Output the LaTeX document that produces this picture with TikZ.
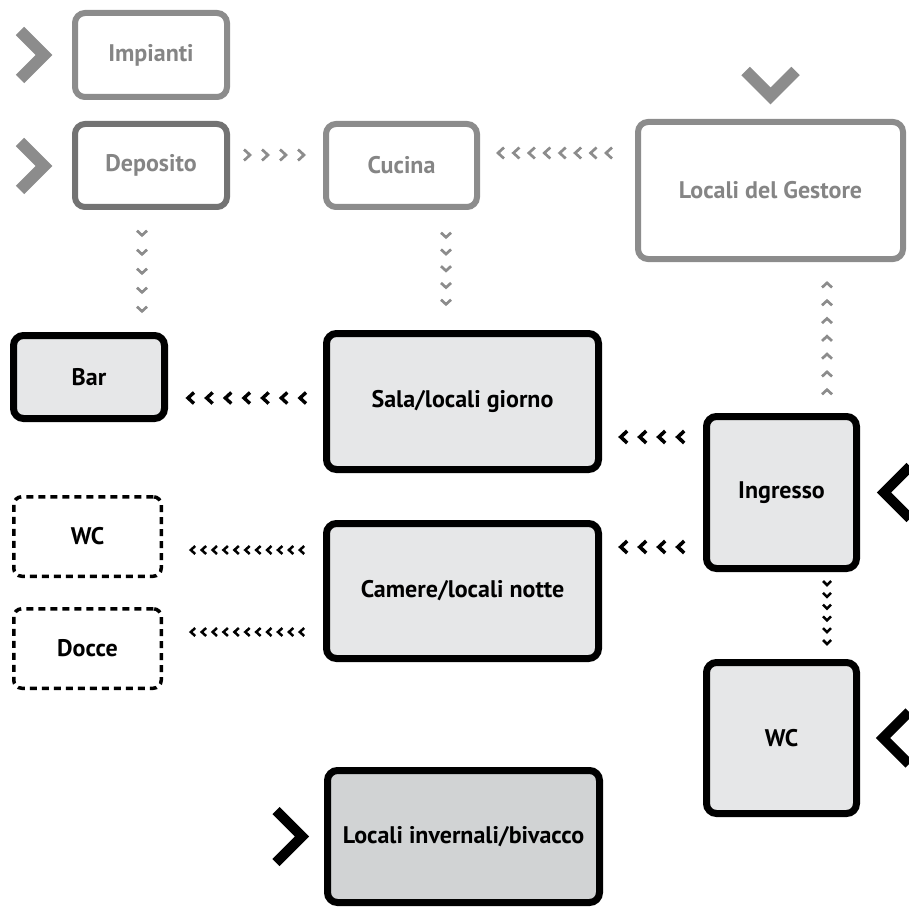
\documentclass[tikz,border=0pt]{standalone}
\usepackage{fontspec}
\setmainfont{PT Sans}
\usepackage{tikz}
\usetikzlibrary{calc,decorations.markings}
\definecolor{boxgrey}{HTML}{8C8C8C}
\definecolor{depgrey}{HTML}{737373}
\definecolor{txtgrey}{HTML}{858585}
\definecolor{roomfill}{HTML}{E6E7E8}
\definecolor{winterfill}{HTML}{D1D3D4}
\tikzset{
  label font/.style={font=\bfseries\fontsize{24}{26}\selectfont},
  greybox/.style={draw=boxgrey, line width=6pt, rounded corners=10pt, fill=white,
    text=txtgrey, label font},
  roombox/.style={draw=black, line width=7pt, rounded corners=10pt, fill=roomfill,
    text=black, label font},
  dashbox/.style={draw=black, line width=3.5pt, dash pattern=on 7pt off 5pt,
    rounded corners=8pt, fill=white, text=black, label font},
  chevrow/.style n args={5}{decoration={markings,
      mark=between positions #1 and #2 step #3 with {\draw[line join=miter] (-#4,-#5) -- (#4,0) -- (-#4,#5);}},
    postaction={decorate}},
  bigchev/.style={line width=#1, line join=miter},
}

\begin{document}
\begin{tikzpicture}[x=1pt, y=-1pt]
    \useasboundingbox (0,0) rectangle (909,909);
    % grey rooms
    \node[greybox, minimum width=152, minimum height=84] (impianti) at (151,55) {Impianti};
    \node[greybox, draw=depgrey, minimum width=152, minimum height=83] (deposito) at (151,165.5) {Deposito};
    \node[greybox, minimum width=151, minimum height=83] (cucina) at (401.5,165.5) {Cucina};
    \node[greybox, minimum width=265, minimum height=137] (gestore) at (770.5,190.5) {Locali del Gestore};
    % black rooms
    \node[roombox, minimum width=151, minimum height=83] (bar) at (89,377) {Bar};
    \node[roombox, minimum width=272, minimum height=136] (sala) at (462.5,401.5) {Sala/locali giorno};
    \node[roombox, minimum width=272, minimum height=135] (camere) at (462.5,591) {Camere/locali notte};
    \node[roombox, minimum width=150, minimum height=152] (ingresso) at (781.5,492.5) {Ingresso};
    \node[roombox, minimum width=150, minimum height=151] (wcr) at (781.5,738) {WC};
    \node[roombox, fill=winterfill, minimum width=272, minimum height=132] (invernali) at (463.5,836.5) {Locali invernali/bivacco};
    \node[dashbox, minimum width=147.5, minimum height=79.5] (wc) at (87.5,536.5) {WC};
    \node[dashbox, minimum width=147.5, minimum height=79.5] (docce) at (87.5,648.5) {Docce};

    \coordinate (dc) at ([yshift=10.5pt]deposito.east);
    \coordinate (cg) at ([yshift=12.5pt]cucina.east);
    \coordinate (dd) at ([xshift=-9pt]deposito.south);
    \coordinate (cd) at ([xshift=44.5pt]cucina.south);
    \coordinate (iu) at ([xshift=45.5pt]ingresso.north);
    \coordinate (idn) at ([xshift=45.5pt]ingresso.south);
    \coordinate (is) at ([yshift=55.5pt]ingresso.west);
    \coordinate (ic) at ([yshift=-54.5pt]ingresso.west);
    \coordinate (sb) at ([yshift=3.5pt]sala.west);
    \coordinate (cw) at ([yshift=41pt]camere.west);
    \coordinate (cdo) at ([yshift=-41pt]camere.west);

    \path[boxgrey, line width=2.7pt, chevrow={17pt}{-21.5pt}{18pt}{3}{5.5}] (dc) -- (dc -| cucina.west);
    \path[boxgrey, line width=2.7pt, chevrow={26pt}{-20.5pt}{15.43pt}{3}{5.5}] (cg -| gestore.west) -- (cg);
    \path[boxgrey, line width=2.7pt, chevrow={23pt}{-22.5pt}{19pt}{2.3}{5}] (dd) -- (dd |- bar.north);
    \path[boxgrey, line width=2.7pt, chevrow={25pt}{-27.5pt}{16.75pt}{2.3}{5}] (cd) -- (cd |- sala.north);
    \path[boxgrey, line width=2.7pt, chevrow={21pt}{-22.7pt}{17.8pt}{2.3}{5}] (iu) -- (iu |- gestore.south);
    \path[black, line width=3.6pt, chevrow={22pt}{-21.5pt}{19pt}{3.2}{6}] (is) -- (is -| sala.east);
    \path[black, line width=3.6pt, chevrow={22pt}{-21.5pt}{19pt}{3.2}{6}] (ic) -- (ic -| camere.east);
    \path[black, line width=2.5pt, chevrow={11pt}{-16.5pt}{11.8pt}{2}{4}] (idn) -- (idn |- wcr.north);
    \path[black, line width=3.4pt, chevrow={20pt}{-22.5pt}{18.67pt}{3}{5.5}] (sb) -- (sb -| bar.east);
    \path[black, line width=2.5pt, chevrow={21pt}{-29.5pt}{10.9pt}{2.2}{4}] (cw) -- (cw -| wc.east);
    \path[black, line width=2.5pt, chevrow={21pt}{-29.5pt}{10.9pt}{2.2}{4}] (cdo) -- (cdo -| docce.east);

    % entrances
    \draw[boxgrey, bigchev=12pt] ([xshift=-52pt,yshift=24pt]impianti.west) -- ++(24,24) -- ++(-24,24);
    \draw[boxgrey, bigchev=12pt] ([xshift=-52pt,yshift=23.5pt]deposito.west) -- ++(24,24) -- ++(-24,24);
    \draw[boxgrey, bigchev=12pt] ([xshift=-25pt,yshift=48pt]gestore.north) -- ++(25,25) -- ++(25,-25);
    \draw[black, bigchev=10pt] ([xshift=50pt,yshift=26pt]ingresso.east) -- ++(-26,26) -- ++(26,26);
    \draw[black, bigchev=10pt] ([xshift=49pt,yshift=26pt]wcr.east) -- ++(-26,26) -- ++(26,26);
    \draw[black, bigchev=10pt] ([xshift=-48pt,yshift=26pt]invernali.west) -- ++(26,26) -- ++(-26,26);
\end{tikzpicture}
\end{document}
